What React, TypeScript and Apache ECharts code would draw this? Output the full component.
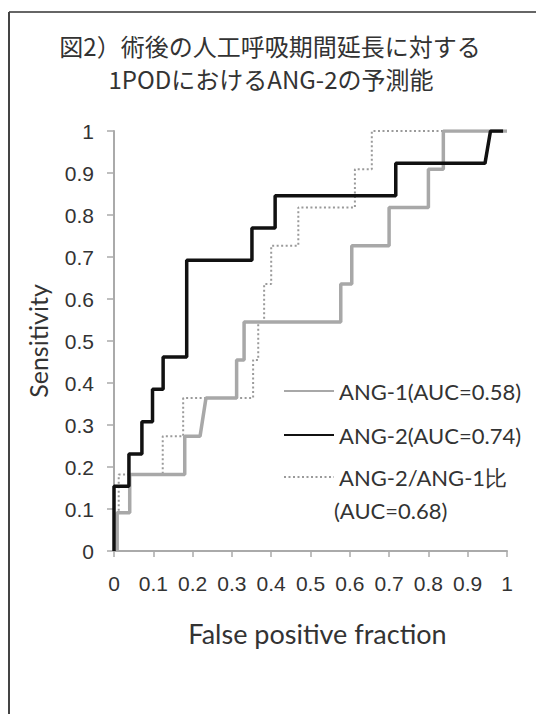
import React, { useEffect, useRef } from "react";
import * as echarts from "echarts";

const titleLines = ["図2）術後の人工呼吸期間延長に対する", "1PODにおけるANG-2の予測能"];
const xAxisName = "False positive fraction";
const yAxisName = "Sensitivity";

const ang1Name = "ANG-1(AUC=0.58)";
const ang1Fpr = [0.008, 0.008, 0.04, 0.04, 0.18, 0.18, 0.219, 0.234, 0.312, 0.312, 0.331, 0.331, 0.577, 0.577, 0.605, 0.605, 0.7, 0.7, 0.8, 0.8, 0.838, 0.838, 1.0];
const ang1Sens = [0, 0.091, 0.091, 0.182, 0.182, 0.273, 0.273, 0.364, 0.364, 0.455, 0.455, 0.545, 0.545, 0.636, 0.636, 0.727, 0.727, 0.818, 0.818, 0.909, 0.909, 1.0, 1.0];

const ang2Name = "ANG-2(AUC=0.74)";
const ang2Fpr = [0, 0, 0.038, 0.038, 0.071, 0.071, 0.098, 0.098, 0.125, 0.125, 0.185, 0.185, 0.351, 0.351, 0.41, 0.41, 0.717, 0.717, 0.944, 0.958, 0.99];
const ang2Sens = [0, 0.154, 0.154, 0.231, 0.231, 0.308, 0.308, 0.385, 0.385, 0.462, 0.462, 0.692, 0.692, 0.769, 0.769, 0.846, 0.846, 0.923, 0.923, 1.0, 1.0];

const ratioName = "ANG-2/ANG-1比";
const ratioAuc = "(AUC=0.68)";
const ratioFpr = [0, 0, 0.012, 0.012, 0.124, 0.124, 0.176, 0.176, 0.354, 0.354, 0.367, 0.367, 0.382, 0.382, 0.4, 0.4, 0.469, 0.469, 0.613, 0.613, 0.656, 0.656, 1.0];
const ratioSens = [0, 0.091, 0.091, 0.182, 0.182, 0.273, 0.273, 0.364, 0.364, 0.455, 0.455, 0.545, 0.545, 0.636, 0.636, 0.727, 0.727, 0.818, 0.818, 0.909, 0.909, 1.0, 1.0];

const zip = (xs: number[], ys: number[]) => xs.map((x, i) => [x, ys[i]]);

const latin = "Lato, 'Noto Sans', sans-serif";
const tickFont = "'Liberation Sans', Arial, sans-serif";
const cjk = "'Noto Sans CJK JP', sans-serif";

export default function App() {
  const ref = useRef<HTMLDivElement>(null);
  useEffect(() => {
    document.body.style.margin = "0";
    const chart = echarts.init(ref.current!, null, { renderer: "svg" });
    const legendBase = {
      orient: "vertical",
      itemWidth: 50,
      itemHeight: 14,
      selectedMode: false,
      itemStyle: { opacity: 0 },
      textStyle: { fontSize: 22, color: "#333", fontFamily: latin },
    };
    chart.setOption({
      animation: false,
      backgroundColor: "#fff",
      grid: { left: 114, right: 29, top: 131, bottom: 163 },
      xAxis: {
        type: "value",
        min: 0,
        max: 1,
        interval: 0.1,
        name: xAxisName,
        nameLocation: "middle",
        nameGap: 69,
        nameTextStyle: { fontSize: 27, color: "#333", fontFamily: latin, padding: [0, 0, 0, 14] },
        axisLine: { lineStyle: { color: "#aaa", width: 2 } },
        axisTick: { show: true, length: 6, lineStyle: { color: "#aaa", width: 1.5 } },
        axisLabel: { fontSize: 21, color: "#333", fontFamily: tickFont, margin: 22 },
        splitLine: { show: false },
      },
      yAxis: {
        type: "value",
        min: 0,
        max: 1,
        interval: 0.1,
        name: yAxisName,
        nameLocation: "middle",
        nameGap: 64,
        nameTextStyle: { fontSize: 25, color: "#333", fontFamily: latin },
        axisLine: { show: true, lineStyle: { color: "#aaa", width: 2 } },
        axisTick: { show: true, length: 7, lineStyle: { color: "#aaa", width: 1.5 } },
        axisLabel: { fontSize: 21, color: "#333", fontFamily: tickFont, margin: 20 },
        splitLine: { show: false },
      },
      legend: [
        { ...legendBase, data: [ang1Name], left: 278, top: 375 },
        { ...legendBase, data: [ang2Name], left: 278, top: 419 },
        { ...legendBase, data: [ratioName], left: 278, top: 461 },
      ],
      series: [
        {
          name: ratioName,
          type: "line",
          data: zip(ratioFpr, ratioSens),
          symbol: "none",
          lineStyle: { color: "#9a9a9a", width: 2, type: [2, 2.5] },
          itemStyle: { color: "#9a9a9a" },
        },
        {
          name: ang1Name,
          type: "line",
          data: zip(ang1Fpr, ang1Sens),
          symbol: "none",
          lineStyle: { color: "#a8a8a8", width: 3.5 },
          itemStyle: { color: "#a8a8a8" },
        },
        {
          name: ang2Name,
          type: "line",
          data: zip(ang2Fpr, ang2Sens),
          symbol: "none",
          lineStyle: { color: "#111", width: 3.5 },
          itemStyle: { color: "#111" },
        },
      ],
      graphic: [
        { type: "line", shape: { x1: 9, y1: 12, x2: 536, y2: 12 }, style: { stroke: "#666", lineWidth: 2 } },
        { type: "line", shape: { x1: 9, y1: 12, x2: 9, y2: 714 }, style: { stroke: "#444", lineWidth: 2 } },
        {
          type: "text",
          x: 270,
          y: 45,
          style: { text: titleLines[0], fontSize: 24, lineHeight: 28, fill: "#333", fontFamily: cjk, align: "center", verticalAlign: "middle" },
        },
        {
          type: "text",
          x: 271,
          y: 78,
          style: { text: titleLines[1], fontSize: 24, lineHeight: 28, fill: "#333", fontFamily: cjk, align: "center", verticalAlign: "middle" },
        },
        {
          type: "text",
          x: 334,
          y: 510,
          style: { text: ratioAuc, fontSize: 22, fill: "#333", fontFamily: latin, verticalAlign: "middle" },
        },
      ],
    });
    return () => chart.dispose();
  }, []);
  return <div ref={ref} style={{ width: 536, height: 714 }} />;
}
